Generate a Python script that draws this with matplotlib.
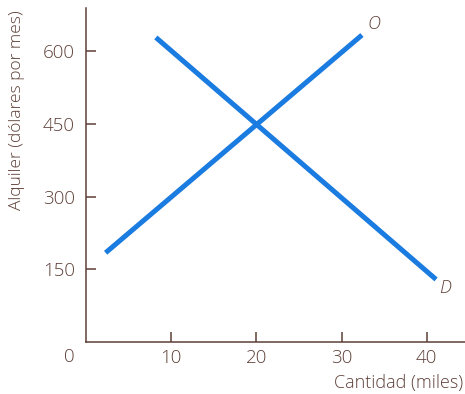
import matplotlib.pyplot as plt

# oferta (O) y demanda (D) de alquiler
oferta_x = [2.3, 32.4]
oferta_y = [184, 633]
demanda_x = [8.2, 41.1]
demanda_y = [628, 129]

xticks = [10, 20, 30, 40]
yticks = [150, 300, 450, 600]

brown = "#5e4038"
blue = "#1a7be0"

plt.rcParams['font.family'] = ['Open Sans', 'DejaVu Sans']
plt.rcParams['font.weight'] = 'light'

fig = plt.figure(figsize=(4.65, 3.94), dpi=100)
ax = fig.add_axes([0.185, 0.132, 0.815, 0.848])

ax.plot(oferta_x, oferta_y, color=blue, lw=3.6, solid_capstyle="butt")
ax.plot(demanda_x, demanda_y, color=blue, lw=3.6, solid_capstyle="butt")

ax.set_xlim(0, 44.5)
ax.set_ylim(0, 689)

for s in ["top", "right"]:
    ax.spines[s].set_visible(False)
for s in ["left", "bottom"]:
    ax.spines[s].set_color(brown)
    ax.spines[s].set_linewidth(1.1)

ax.set_xticks(xticks)
ax.set_yticks(yticks)
ax.tick_params(direction="in", length=7, width=1.1, color=brown,
               labelcolor=brown, labelsize=13.5, pad=5)
ax.tick_params(axis="y", pad=8)

# etiqueta del origen
ax.text(-2.0, -12, "0", color=brown, fontsize=13.5, ha="center", va="top")

ax.text(0.995, -0.095, "Cantidad (miles)", transform=ax.transAxes,
        color=brown, fontsize=13, ha="right", va="top")
fig.text(0.036, 0.72, "Alquiler (dólares por mes)", rotation=90,
         color=brown, fontsize=12.5, ha="center", va="center")

ax.text(33.8, 655, "O", color=brown, fontsize=13, style="italic",
        ha="center", va="center")
ax.text(42.2, 111, "D", color=brown, fontsize=13, style="italic",
        ha="center", va="center")

fig.savefig("out.png", dpi=100)
